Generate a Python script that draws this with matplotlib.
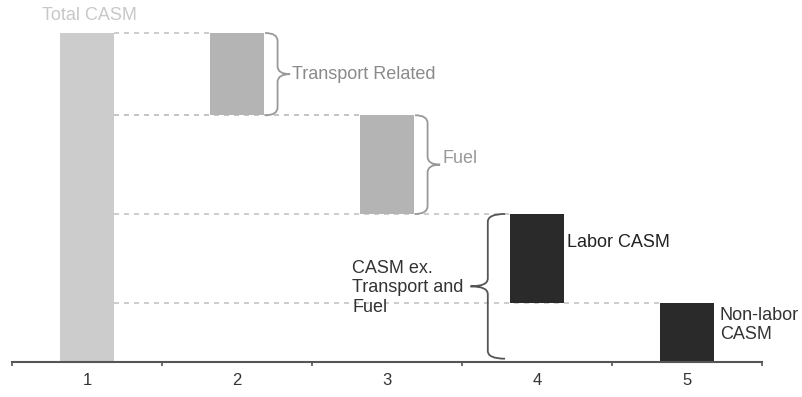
import matplotlib.pyplot as plt
from matplotlib.path import Path
from matplotlib.patches import PathPatch
import numpy as np

plt.rcParams['font.family'] = ['Liberation Sans', 'DejaVu Sans']

categories = ["1", "2", "3", "4", "5"]
values = [100, 25, 30, 27, 18]
bar_colors = ["#cccccc", "#b4b4b4", "#b4b4b4", "#2a2a2a", "#2a2a2a"]

# waterfall bottoms: first bar is the total, the rest step down
bottoms = [0]
level = values[0]
for v in values[1:]:
    level = level - v
    bottoms.append(level)

x = np.arange(1, len(categories) + 1)
width = 0.36


def brace(ax, x0, y0, y1, w, r, color):
    # vertical curly brace, spine at x0 + w/2, tip at x0 + w
    ym = (y0 + y1) / 2
    xm = x0 + w / 2
    verts = [(x0, y1), (xm, y1), (xm, y1 - r),
             (xm, ym + r),
             (xm, ym), (x0 + w, ym),
             (xm, ym), (xm, ym - r),
             (xm, y0 + r),
             (xm, y0), (x0, y0)]
    codes = [Path.MOVETO, Path.CURVE3, Path.CURVE3,
             Path.LINETO,
             Path.CURVE3, Path.CURVE3,
             Path.CURVE3, Path.CURVE3,
             Path.LINETO,
             Path.CURVE3, Path.CURVE3]
    ax.add_patch(PathPatch(Path(verts, codes), fill=False, edgecolor=color, lw=1.3))


fig = plt.figure(figsize=(8.03, 3.97), dpi=100)
ax = fig.add_axes([12 / 803, 35 / 397, 750 / 803, 352 / 397])

# dashed guide lines from the total bar to each step
for i in range(1, len(values)):
    top = bottoms[i] + values[i]
    ax.plot([x[0] + width / 2, x[i] - width / 2], [top, top], color="#c4c4c4",
            ls=(0, (3, 3)), lw=1.2, zorder=1)
ax.plot([x[0] + width / 2, x[2] - width / 2], [bottoms[1], bottoms[1]], color="#c4c4c4",
        ls=(0, (3, 3)), lw=1.2, zorder=1)

ax.bar(x, values, width, bottom=bottoms, color=bar_colors, zorder=2)

brace(ax, 2.187, bottoms[1], bottoms[1] + values[1], 0.167, 2.4, "#999999")
brace(ax, 3.187, bottoms[2], bottoms[2] + values[2], 0.167, 2.4, "#999999")
brace(ax, 3.787, 1, bottoms[3] + values[3], -0.23, 2.4, "#555555")

fs = 13
ax.text(0.7, 105.2, "Total CASM", color="#c8c8c8", fontsize=fs, va="center")
ax.text(2.367, 87.5, "Transport Related", color="#8a8a8a", fontsize=fs, va="center")
ax.text(3.373, 62, "Fuel", color="#999999", fontsize=fs, va="center")
ax.text(2.767, 22.5, "CASM ex.\nTransport and\nFuel", color="#333333", fontsize=fs,
        va="center", linespacing=1.2)
ax.text(4.2, 36.2, "Labor CASM", color="#222222", fontsize=fs, va="center")
ax.text(5.22, 11.2, "Non-labor\nCASM", color="#333333", fontsize=fs, va="center",
        linespacing=1.2)

ax.set_xlim(0.5, 5.5)
ax.set_ylim(0, 107)
ax.set_xticks(x)
ax.set_xticklabels(categories, fontsize=12, color="#333333")
ax.set_xticks(np.arange(0.5, 6, 1), minor=True)
ax.tick_params(axis="x", which="major", length=0, pad=8)
ax.tick_params(axis="x", which="minor", length=3, width=1.2, color="#555555")
ax.set_yticks([])
for s in ["top", "right", "left"]:
    ax.spines[s].set_visible(False)
ax.spines["bottom"].set_color("#555555")
ax.spines["bottom"].set_linewidth(1.5)

fig.savefig("out.png", dpi=100)
